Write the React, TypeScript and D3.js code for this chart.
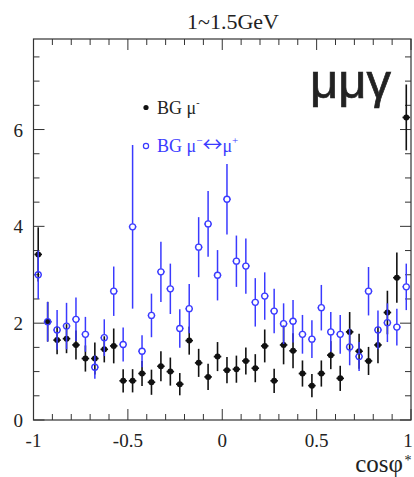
import React from "react";
import * as d3 from "d3";

// Bin centres in cos(phi*): 40 bins of width 0.05
const binCenters: number[] = [
  -0.975, -0.925, -0.875, -0.825, -0.775, -0.725, -0.675, -0.625, -0.575, -0.525,
  -0.475, -0.425, -0.375, -0.325, -0.275, -0.225, -0.175, -0.125, -0.075, -0.025,
  0.025, 0.075, 0.125, 0.175, 0.225, 0.275, 0.325, 0.375, 0.425, 0.475,
  0.525, 0.575, 0.625, 0.675, 0.725, 0.775, 0.825, 0.875, 0.925, 0.975,
];

// BG mu- (black, filled)
const bgMuValues: number[] = [
  3.42, 2.03, 1.65, 1.68, 1.55, 1.27, 1.27, 1.46, 1.53, 0.81,
  0.81, 0.96, 0.78, 1.11, 1.0, 0.74, 1.64, 1.18, 0.89, 1.31,
  1.03, 1.05, 1.22, 1.07, 1.53, 0.81, 1.55, 1.43, 0.96, 0.71,
  0.96, 1.34, 0.86, 1.82, 1.42, 1.22, 1.55, 2.22, 2.94, 6.25,
];
const bgMuErrors: number[] = [
  0.56, 0.41, 0.29, 0.3, 0.3, 0.27, 0.33, 0.27, 0.36, 0.24,
  0.24, 0.26, 0.26, 0.31, 0.29, 0.23, 0.29, 0.29, 0.27, 0.3,
  0.27, 0.28, 0.28, 0.29, 0.34, 0.25, 0.4, 0.36, 0.27, 0.24,
  0.27, 0.29, 0.26, 0.41, 0.36, 0.29, 0.38, 0.45, 0.52, 0.68,
];

// BG mu- <-> mu+ (blue, open)
const bgSwapValues: number[] = [
  3.0, 2.03, 1.86, 1.94, 2.08, 1.77, 1.09, 1.7, 2.66, 1.56,
  3.99, 1.42, 2.16, 3.06, 2.71, 1.89, 2.3, 3.57, 4.05, 2.99,
  4.56, 3.28, 3.18, 2.43, 2.56, 2.25, 1.99, 2.04, 1.77, 1.67,
  2.32, 1.82, 1.77, 1.51, 1.31, 2.66, 1.86, 2.01, 1.92, 2.75,
];
const bgSwapErrors: number[] = [
  0.5, 0.41, 0.41, 0.48, 0.45, 0.36, 0.24, 0.38, 0.51, 0.35,
  1.69, 0.33, 0.45, 0.62, 0.52, 0.4, 0.51, 0.62, 0.68, 0.52,
  0.73, 0.53, 0.57, 0.5, 0.49, 0.46, 0.42, 0.44, 0.4, 0.39,
  0.47, 0.41, 0.4, 0.38, 0.3, 0.5, 0.4, 0.4, 0.38, 0.48,
];

const xErr = 0.02;
const xMajorTicks: number[] = [-1, -0.5, 0, 0.5, 1];
const xTickLabels: string[] = ["-1", "-0.5", "0", "0.5", "1"];
const yMajorTicks: number[] = [0, 2, 4, 6];
const yTickLabels: string[] = ["0", "2", "4", "6"];

const W = 414;
const H = 477;
const left = 33.5;
const right = 411;
const top = 39;
const bottom = 420;

const BLUE = "#3a3aff";
const AXIS = "#333";
const SERIF = "Liberation Serif, Times New Roman, serif";

export default function App() {
  const x = d3.scaleLinear().domain([-1, 1]).range([left, right]);
  const y = d3.scaleLinear().domain([0, 7.87]).range([bottom, top]);

  const xMinor = d3.range(-1, 1.0001, 0.1).map((v) => +v.toFixed(2));
  const yMinor = d3.range(0, 7.8, 0.5);
  const isMajorX = (v: number) => xMajorTicks.some((m) => Math.abs(m - v) < 1e-6);
  const isMajorY = (v: number) => yMajorTicks.some((m) => Math.abs(m - v) < 1e-6);

  const r = 3;

  return (
    <svg
      width={W}
      height={H}
      style={{ position: "absolute", left: 0, top: 0, background: "#fff" }}
      fontFamily={SERIF}
    >
      <rect x={0} y={0} width={W} height={H} fill="#fff" />

      {/* title */}
      <text x={233} y={29} fontSize={22} textAnchor="middle" fill="#222">
        1~1.5GeV
      </text>

      {/* frame */}
      <rect x={left} y={top} width={right - left} height={bottom - top} fill="none" stroke={AXIS} strokeWidth={1.2} />

      {/* x ticks: bottom and top */}
      {xMinor.map((v, i) => {
        const len = isMajorX(v) ? 11 : 6;
        return (
          <g key={"xt" + i} stroke={AXIS} strokeWidth={1}>
            <line x1={x(v)} x2={x(v)} y1={bottom} y2={bottom - len} />
            <line x1={x(v)} x2={x(v)} y1={top} y2={top + len} />
          </g>
        );
      })}
      {/* y ticks: left and right */}
      {yMinor.map((v, i) => {
        const len = isMajorY(v) ? 11 : 6;
        return (
          <g key={"yt" + i} stroke={AXIS} strokeWidth={1}>
            <line x1={left} x2={left + len} y1={y(v)} y2={y(v)} />
            <line x1={right} x2={right - len} y1={y(v)} y2={y(v)} />
          </g>
        );
      })}

      {/* tick labels */}
      {xMajorTicks.map((v, i) => (
        <text key={"xl" + i} x={Math.min(x(v), 408)} y={447} fontSize={19} textAnchor="middle" fill="#222">
          {xTickLabels[i]}
        </text>
      ))}
      {yMajorTicks.map((v, i) => (
        <text key={"yl" + i} x={23} y={y(v) + 7} fontSize={19} textAnchor="end" fill="#222">
          {yTickLabels[i]}
        </text>
      ))}

      {/* axis title */}
      <text x={403} y={472} fontSize={25} textAnchor="end" fill="#222">
        cosφ
      </text>
      <text x={408} y={465} fontSize={14} textAnchor="middle" fill="#222">
        *
      </text>

      {/* BG mu- */}
      {binCenters.map((c, i) => {
        const v = bgMuValues[i];
        const e = bgMuErrors[i];
        return (
          <g key={"b" + i} stroke="#111" strokeWidth={1.6}>
            <line x1={x(c)} x2={x(c)} y1={y(v + e)} y2={y(v - e)} />
            <line x1={x(c - xErr)} x2={x(c + xErr)} y1={y(v)} y2={y(v)} />
            <circle cx={x(c)} cy={y(v)} r={r} fill="#111" stroke="none" />
          </g>
        );
      })}

      {/* BG mu- <-> mu+ */}
      {binCenters.map((c, i) => {
        const v = bgSwapValues[i];
        const e = bgSwapErrors[i];
        const cx = x(c);
        const cy = y(v);
        return (
          <g key={"s" + i} stroke={BLUE} strokeWidth={1.5} fill="none">
            <line x1={cx} x2={cx} y1={y(v + e)} y2={cy - r} />
            <line x1={cx} x2={cx} y1={cy + r} y2={y(v - e)} />
            <line x1={x(c - xErr)} x2={cx - r} y1={cy} y2={cy} />
            <line x1={cx + r} x2={x(c + xErr)} y1={cy} y2={cy} />
            <circle cx={cx} cy={cy} r={r} strokeWidth={1.3} />
          </g>
        );
      })}

      {/* channel label */}
      <text
        x={310}
        y={98}
        fontSize={49}
        fontFamily="Liberation Sans, Arial, sans-serif"
        fill="#222"
        stroke="#222"
        strokeWidth={0.7}
      >
        μμγ
      </text>

      {/* legend */}
      <circle cx={146} cy={107.5} r={2.6} fill="#111" />
      <text x={157} y={113.5} fontSize={18} fill="#222">
        BG μ<tspan fontSize={10} dy={-8}>-</tspan>
      </text>
      <circle cx={146} cy={146} r={2.6} fill="none" stroke={BLUE} strokeWidth={1.2} />
      <text x={157} y={152} fontSize={18} fill={BLUE}>
        BG μ<tspan fontSize={11} dy={-8}>−</tspan>
        <tspan fontSize={20} fontFamily="Noto Sans CJK SC" dy={8}>↔</tspan>
        <tspan>μ</tspan>
        <tspan fontSize={11} dy={-8}>+</tspan>
      </text>
    </svg>
  );
}
